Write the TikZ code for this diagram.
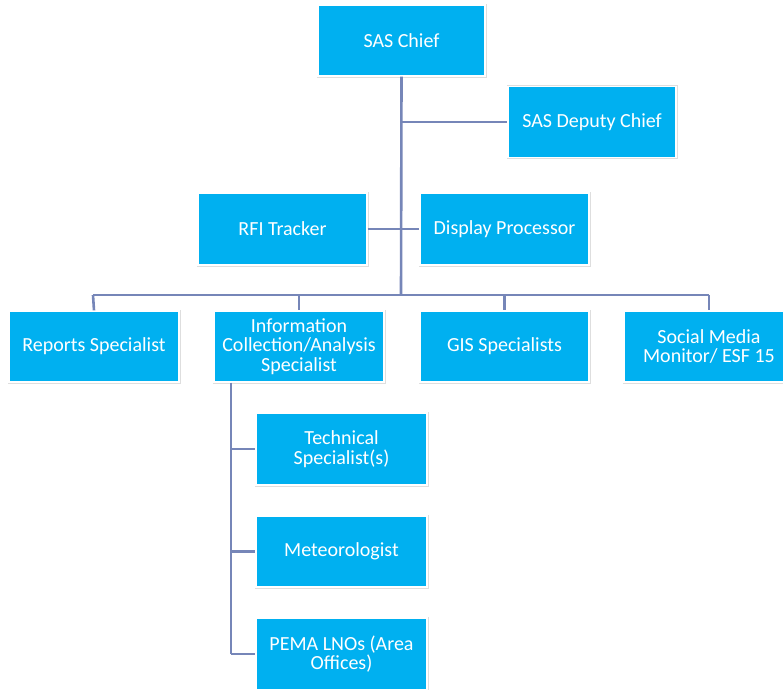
\documentclass[tikz,border=0pt]{standalone}
\usepackage{fontspec}
\setmainfont{Carlito}
\definecolor{boxblue}{HTML}{00B0F0}
\definecolor{linec}{HTML}{7686B8}
\begin{document}
\begin{tikzpicture}[x=1pt,y=-1pt,
  orgbox/.style={rectangle, fill=boxblue, draw=white, line width=1.2pt,
    preaction={draw=black!13, line width=3pt},
    text=white, align=center, inner sep=2pt,
    font=\fontsize{20}{19.4}\selectfont},
  conn/.style={draw=linec, line width=2.6pt}]
\useasboundingbox (0,0) rectangle (783,689);
\clip (0,0) rectangle (783,689);
% boxes
\node[orgbox, minimum width=167pt, minimum height=71pt] (chief) at (401.5,40.5) {SAS Chief};
\node[orgbox, minimum width=168pt, minimum height=71pt] (deputy) at (592,122) {SAS Deputy Chief};
\node[orgbox, minimum width=169pt, minimum height=72pt] (rfi) at (282.5,229) {RFI Tracker};
\node[orgbox, minimum width=169pt, minimum height=72pt] (disp) at (504.5,229) {Display Processor};
\node[orgbox, minimum width=170pt, minimum height=71pt] (reports) at (94,346.5) {Reports Specialist};
\node[orgbox, minimum width=170pt, minimum height=71pt] (info) at (299,346.5) {Information\\Collection/Analysis\\Specialist};
\node[orgbox, minimum width=169pt, minimum height=71pt] (gis) at (504.5,346.5) {GIS Specialists};
\node[orgbox, minimum width=170pt, minimum height=71pt] (social) at (709,346.5) {Social Media\\Monitor/ ESF 15};
\node[orgbox, minimum width=171pt, minimum height=72pt] (tech) at (341.5,449) {Technical\\Specialist(s)};
\node[orgbox, minimum width=171pt, minimum height=71pt] (met) at (341.5,551.5) {Meteorologist};
\node[orgbox, minimum width=171pt, minimum height=72pt] (pema) at (341.5,654) {PEMA LNOs (Area\\Offices)};
% coordinates
\coordinate (bus) at (401,295);
\coordinate (depj) at (401,122);
\coordinate (busL) at (93,295);
\coordinate (busR) at (709,295);
\coordinate (infoX) at (231,346.5);
\coordinate (infoB) at (231,654);
% connectors
\draw[conn] (chief.south) -- (bus);
\draw[conn] (depj) -- (deputy.west);
\draw[conn] (rfi.east) -- (disp.west);
\draw[conn] (busL) -- (busR);
\draw[conn] (busL) -- (reports.north);
\draw[conn] (info.north |- bus) -- (info.north);
\draw[conn] (gis.north |- bus) -- (gis.north);
\draw[conn] (busR) -- (social.north);
\draw[conn] (infoX |- info.south) -- (infoB);
\draw[conn] (infoX |- tech.west) -- (tech.west);
\draw[conn] (infoX |- met.west) -- (met.west);
\draw[conn] (infoX |- pema.west) -- (pema.west);
\end{tikzpicture}
\end{document}
